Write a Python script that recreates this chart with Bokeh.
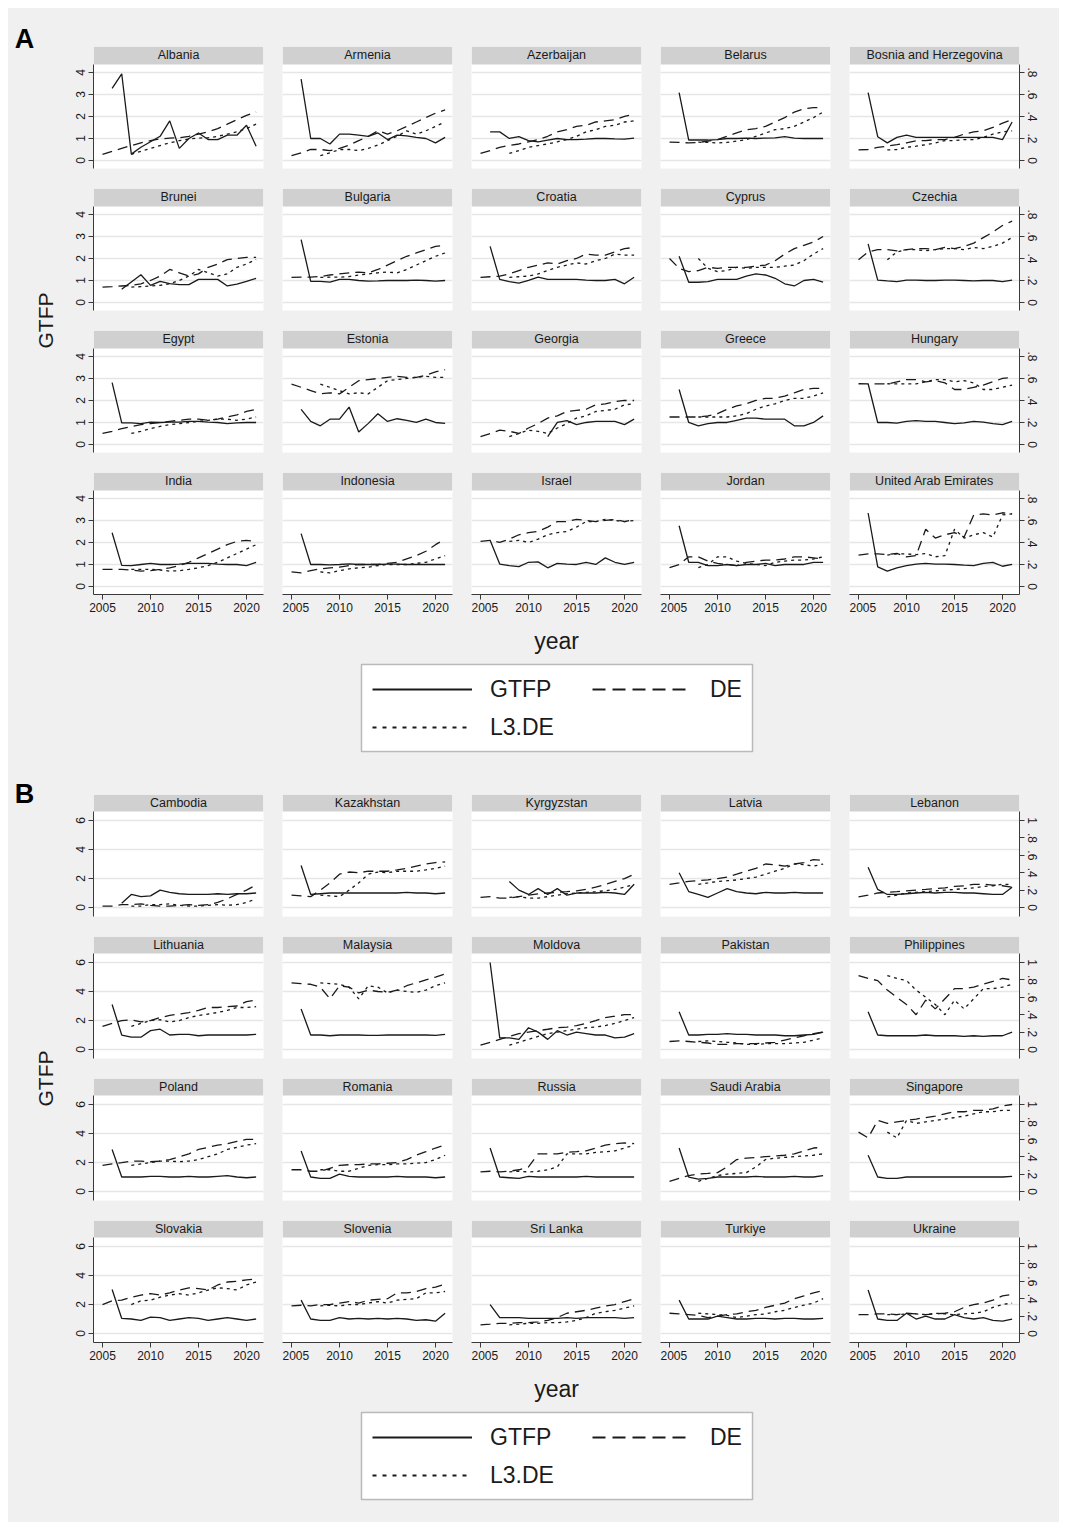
import math
from bokeh.plotting import figure
from bokeh.models import (Range1d, LinearAxis, FixedTicker, Grid, BoxAnnotation, Label,
                          Legend, LegendItem, CustomJSTickFormatter)
from bokeh.layouts import row, column
from bokeh.embed import file_html
from bokeh.resources import INLINE

nan = float("nan")

# ---------------- data ----------------
YEARS_GTFP = [2006, 2007, 2008, 2009, 2010, 2011, 2012, 2013, 2014, 2015, 2016, 2017, 2018, 2019, 2020, 2021]
YEARS_DE = [2005, 2006, 2007, 2008, 2009, 2010, 2011, 2012, 2013, 2014, 2015, 2016, 2017, 2018, 2019, 2020, 2021]
YEARS_L3DE = [2008, 2009, 2010, 2011, 2012, 2013, 2014, 2015, 2016, 2017, 2018, 2019, 2020, 2021]
YEAR_TICKS = [2005, 2010, 2015, 2020]

COUNTRIES_A = ["Albania", "Armenia", "Azerbaijan", "Belarus", "Bosnia and Herzegovina",
               "Brunei", "Bulgaria", "Croatia", "Cyprus", "Czechia",
               "Egypt", "Estonia", "Georgia", "Greece", "Hungary",
               "India", "Indonesia", "Israel", "Jordan", "United Arab Emirates"]

GTFP_A = [
    [3.28, 3.94, 0.29, 0.6, 0.85, 1.1, 1.8, 0.55, 1.0, 1.25, 0.95, 0.95, 1.15, 1.15, 1.6, 0.65],
    [3.7, 1.0, 1.0, 0.75, 1.2, 1.2, 1.15, 1.1, 1.25, 0.95, 1.15, 1.12, 1.05, 1.0, 0.8, 1.05],
    [1.3, 1.3, 1.0, 1.08, 0.9, 0.85, 0.93, 1.0, 0.95, 0.95, 0.97, 1.0, 1.0, 0.98, 0.97, 1.02],
    [3.08, 0.93, 0.93, 0.93, 0.95, 1.0, 1.0, 1.02, 1.0, 1.02, 1.03, 1.08, 1.02, 1.0, 1.0, 1.0],
    [3.08, 1.08, 0.8, 1.05, 1.15, 1.05, 1.05, 1.05, 1.05, 1.05, 1.05, 1.05, 1.05, 1.05, 0.95, 1.75],
    [nan, 0.6, 0.93, 1.26, 0.78, 0.96, 0.86, 0.81, 0.81, 1.05, 1.05, 1.05, 0.75, 0.83, 0.96, 1.1],
    [2.86, 0.96, 0.96, 0.93, 1.05, 1.05, 1.0, 0.97, 0.98, 1.0, 1.0, 1.0, 1.02, 1.0, 0.97, 1.0],
    [2.55, 1.05, 0.95, 0.88, 1.0, 1.15, 1.05, 1.05, 1.05, 1.05, 1.02, 1.0, 1.0, 1.05, 0.85, 1.15],
    [2.1, 0.92, 0.92, 0.95, 1.05, 1.05, 1.05, 1.2, 1.3, 1.25, 1.1, 0.85, 0.75, 1.0, 1.05, 0.92],
    [2.66, 1.02, 0.98, 0.95, 1.02, 1.02, 1.0, 1.0, 1.02, 1.02, 1.0, 0.98, 1.0, 1.0, 0.95, 1.02],
    [2.81, 0.98, 0.98, 0.95, 1.02, 1.0, 1.02, 1.02, 1.05, 1.05, 1.02, 1.0, 0.95, 0.98, 1.0, 1.0],
    [1.6, 1.05, 0.85, 1.15, 1.15, 1.7, 0.57, 0.96, 1.4, 1.05, 1.17, 1.1, 1.0, 1.15, 1.0, 0.96],
    [nan, nan, nan, nan, nan, nan, 0.36, 1.0, 1.08, 0.9, 1.0, 1.05, 1.05, 1.05, 0.9, 1.15],
    [2.5, 1.0, 0.85, 0.95, 1.0, 1.0, 1.1, 1.2, 1.2, 1.15, 1.15, 1.15, 0.85, 0.85, 1.0, 1.3],
    [2.76, 1.0, 1.0, 0.97, 1.05, 1.08, 1.05, 1.05, 1.0, 0.95, 0.98, 1.05, 1.02, 0.95, 0.9, 1.05],
    [2.44, 0.96, 0.95, 1.0, 1.05, 1.0, 1.0, 1.02, 1.05, 1.05, 1.05, 1.02, 1.0, 1.0, 0.95, 1.1],
    [2.4, 1.0, 1.0, 0.98, 1.0, 1.03, 1.0, 1.0, 1.0, 1.02, 1.02, 1.0, 1.0, 1.0, 1.0, 1.0],
    [2.1, 1.02, 0.95, 0.9, 1.1, 1.12, 0.85, 1.05, 1.02, 1.0, 1.1, 1.0, 1.3, 1.1, 1.0, 1.1],
    [2.76, 1.1, 1.1, 0.95, 0.95, 1.0, 0.95, 1.0, 1.0, 1.05, 0.95, 1.0, 1.0, 1.0, 1.1, 1.1],
    [3.34, 0.89, 0.7, 0.85, 0.95, 1.02, 1.05, 1.02, 1.02, 1.0, 0.97, 0.95, 1.05, 1.1, 0.92, 1.0],
]

DE_A = [
    [0.056, 0.084, 0.11, 0.136, 0.16, 0.18, 0.196, 0.204, 0.206, 0.22, 0.24, 0.26, 0.29, 0.33, 0.37, 0.41, 0.44],
    [0.044, 0.07, 0.1, 0.1, 0.09, 0.11, 0.14, 0.18, 0.22, 0.27, 0.24, 0.27, 0.31, 0.35, 0.39, 0.43, 0.46],
    [0.064, 0.09, 0.12, 0.136, 0.15, 0.17, 0.19, 0.22, 0.26, 0.28, 0.31, 0.32, 0.35, 0.36, 0.37, 0.4, 0.42],
    [0.166, 0.164, 0.16, 0.164, 0.176, 0.19, 0.22, 0.25, 0.28, 0.29, 0.31, 0.35, 0.39, 0.44, 0.47, 0.48, 0.48],
    [0.096, 0.1, 0.12, 0.13, 0.144, 0.16, 0.18, 0.18, 0.19, 0.19, 0.21, 0.24, 0.26, 0.27, 0.3, 0.34, 0.37],
    [0.14, 0.144, 0.15, 0.156, 0.17, 0.2, 0.24, 0.3, 0.27, 0.24, 0.26, 0.32, 0.35, 0.39, 0.4, 0.41, 0.41],
    [0.228, 0.23, 0.23, 0.236, 0.25, 0.26, 0.27, 0.276, 0.27, 0.3, 0.34, 0.38, 0.42, 0.45, 0.48, 0.51, 0.52],
    [0.228, 0.234, 0.24, 0.26, 0.29, 0.32, 0.34, 0.36, 0.35, 0.38, 0.4, 0.44, 0.43, 0.43, 0.46, 0.49, 0.5],
    [0.4, 0.31, 0.28, 0.29, 0.32, 0.31, 0.32, 0.32, 0.32, 0.33, 0.34, 0.38, 0.44, 0.49, 0.52, 0.55, 0.6],
    [0.388, 0.46, 0.48, 0.48, 0.47, 0.48, 0.49, 0.49, 0.48, 0.5, 0.49, 0.51, 0.54, 0.59, 0.64, 0.7, 0.74],
    [0.1, 0.12, 0.144, 0.164, 0.18, 0.19, 0.2, 0.21, 0.22, 0.23, 0.23, 0.22, 0.23, 0.25, 0.27, 0.3, 0.32],
    [0.548, 0.52, 0.49, 0.46, 0.47, 0.46, 0.52, 0.58, 0.59, 0.6, 0.61, 0.62, 0.61, 0.61, 0.63, 0.66, 0.68],
    [0.072, 0.1, 0.13, 0.12, 0.1, 0.15, 0.19, 0.24, 0.26, 0.3, 0.31, 0.32, 0.36, 0.37, 0.39, 0.4, 0.4],
    [0.25, 0.25, 0.25, 0.25, 0.26, 0.28, 0.32, 0.35, 0.37, 0.4, 0.42, 0.42, 0.44, 0.47, 0.5, 0.51, 0.51],
    [0.552, 0.55, 0.55, 0.55, 0.57, 0.59, 0.59, 0.57, 0.58, 0.56, 0.5, 0.5, 0.52, 0.54, 0.57, 0.6, 0.61],
    [0.156, 0.156, 0.156, 0.15, 0.14, 0.144, 0.156, 0.17, 0.19, 0.22, 0.26, 0.3, 0.34, 0.38, 0.41, 0.42, 0.41],
    [0.132, 0.124, 0.144, 0.16, 0.17, 0.176, 0.19, 0.2, 0.2, 0.2, 0.21, 0.22, 0.25, 0.28, 0.32, 0.38, 0.43],
    [0.41, 0.42, 0.4, 0.43, 0.47, 0.49, 0.5, 0.54, 0.59, 0.59, 0.61, 0.6, 0.59, 0.6, 0.61, 0.59, 0.61],
    [0.172, 0.2, 0.27, 0.27, 0.23, 0.21, 0.2, 0.19, 0.22, 0.23, 0.24, 0.24, 0.25, 0.27, 0.27, 0.26, 0.25],
    [0.286, 0.296, 0.296, 0.29, 0.3, 0.27, 0.28, 0.52, 0.44, 0.47, 0.49, 0.45, 0.65, 0.66, 0.65, 0.67, 0.66],
]

L3DE_A = [
    [0.056, 0.084, 0.11, 0.136, 0.16, 0.18, 0.196, 0.204, 0.206, 0.22, 0.24, 0.26, 0.29, 0.33],
    [0.044, 0.07, 0.1, 0.1, 0.09, 0.11, 0.14, 0.18, 0.22, 0.27, 0.24, 0.27, 0.31, 0.35],
    [0.064, 0.09, 0.12, 0.136, 0.15, 0.17, 0.19, 0.22, 0.26, 0.28, 0.31, 0.32, 0.35, 0.36],
    [0.166, 0.164, 0.16, 0.164, 0.176, 0.19, 0.22, 0.25, 0.28, 0.29, 0.31, 0.35, 0.39, 0.44],
    [0.096, 0.1, 0.12, 0.13, 0.144, 0.16, 0.18, 0.18, 0.19, 0.19, 0.21, 0.24, 0.26, 0.27],
    [0.14, 0.144, 0.15, 0.156, 0.17, 0.2, 0.24, 0.3, 0.27, 0.24, 0.26, 0.32, 0.35, 0.39],
    [0.228, 0.23, 0.23, 0.236, 0.25, 0.26, 0.27, 0.276, 0.27, 0.3, 0.34, 0.38, 0.42, 0.45],
    [0.228, 0.234, 0.24, 0.26, 0.29, 0.32, 0.34, 0.36, 0.35, 0.38, 0.4, 0.44, 0.43, 0.43],
    [0.4, 0.31, 0.28, 0.29, 0.32, 0.31, 0.32, 0.32, 0.32, 0.33, 0.34, 0.38, 0.44, 0.49],
    [0.388, 0.46, 0.48, 0.48, 0.47, 0.48, 0.49, 0.49, 0.48, 0.5, 0.49, 0.51, 0.54, 0.59],
    [0.1, 0.12, 0.144, 0.164, 0.18, 0.19, 0.2, 0.21, 0.22, 0.23, 0.23, 0.22, 0.23, 0.25],
    [0.548, 0.52, 0.49, 0.46, 0.47, 0.46, 0.52, 0.58, 0.59, 0.6, 0.61, 0.62, 0.61, 0.61],
    [0.072, 0.1, 0.13, 0.12, 0.1, 0.15, 0.19, 0.24, 0.26, 0.3, 0.31, 0.32, 0.36, 0.37],
    [0.25, 0.25, 0.25, 0.25, 0.26, 0.28, 0.32, 0.35, 0.37, 0.4, 0.42, 0.42, 0.44, 0.47],
    [0.552, 0.55, 0.55, 0.55, 0.57, 0.59, 0.59, 0.57, 0.58, 0.56, 0.5, 0.5, 0.52, 0.54],
    [0.156, 0.156, 0.156, 0.15, 0.14, 0.144, 0.156, 0.17, 0.19, 0.22, 0.26, 0.3, 0.34, 0.38],
    [0.132, 0.124, 0.144, 0.16, 0.17, 0.176, 0.19, 0.2, 0.2, 0.2, 0.21, 0.22, 0.25, 0.28],
    [0.41, 0.42, 0.4, 0.43, 0.47, 0.49, 0.5, 0.54, 0.59, 0.59, 0.61, 0.6, 0.59, 0.6],
    [0.172, 0.2, 0.27, 0.27, 0.23, 0.21, 0.2, 0.19, 0.22, 0.23, 0.24, 0.24, 0.25, 0.27],
    [0.286, 0.296, 0.296, 0.29, 0.3, 0.27, 0.28, 0.52, 0.44, 0.47, 0.49, 0.45, 0.65, 0.66],
]

COUNTRIES_B = ["Cambodia", "Kazakhstan", "Kyrgyzstan", "Latvia", "Lebanon",
               "Lithuania", "Malaysia", "Moldova", "Pakistan", "Philippines",
               "Poland", "Romania", "Russia", "Saudi Arabia", "Singapore",
               "Slovakia", "Slovenia", "Sri Lanka", "Turkiye", "Ukraine"]

GTFP_B = [
    [nan, 0.3, 0.9, 0.75, 0.8, 1.2, 1.05, 0.95, 0.9, 0.9, 0.9, 0.95, 0.9, 0.95, 0.95, 1.0],
    [2.9, 0.9, 0.95, 1.0, 1.0, 1.0, 1.0, 1.0, 1.0, 1.0, 1.0, 1.05, 1.0, 1.0, 0.95, 1.0],
    [nan, nan, 1.8, 1.2, 0.9, 1.3, 0.9, 1.3, 0.85, 1.0, 1.0, 1.0, 1.05, 1.0, 0.9, 1.6],
    [2.4, 1.1, 0.9, 0.7, 1.0, 1.3, 1.1, 1.0, 0.95, 1.05, 1.0, 1.0, 1.05, 1.0, 1.0, 1.0],
    [2.78, 1.25, 0.9, 0.9, 0.95, 1.0, 1.05, 1.0, 1.05, 1.05, 1.0, 1.0, 0.95, 0.9, 0.9, 1.4],
    [3.1, 1.0, 0.85, 0.85, 1.3, 1.4, 1.0, 1.05, 1.05, 0.95, 1.0, 1.0, 1.0, 1.0, 1.0, 1.05],
    [2.8, 1.0, 1.0, 0.95, 1.0, 1.0, 1.0, 0.98, 0.98, 1.0, 1.0, 1.0, 1.0, 1.0, 0.98, 1.05],
    [6.0, 0.8, 0.8, 0.7, 1.5, 1.2, 0.7, 1.3, 1.0, 1.2, 1.1, 1.0, 1.0, 0.8, 0.85, 1.1],
    [2.6, 1.0, 1.0, 1.05, 1.05, 1.1, 1.05, 1.05, 1.0, 1.0, 1.0, 0.95, 0.95, 1.0, 1.05, 1.2],
    [2.6, 1.0, 0.95, 0.95, 0.95, 0.95, 1.0, 0.95, 0.95, 0.95, 0.9, 0.95, 0.9, 0.95, 0.95, 1.2],
    [2.9, 1.0, 1.0, 1.0, 1.05, 1.05, 1.0, 1.0, 1.05, 1.0, 1.0, 1.05, 1.1, 1.0, 0.95, 1.0],
    [2.8, 1.0, 0.9, 0.9, 1.2, 1.05, 1.0, 1.0, 1.0, 1.0, 1.05, 1.0, 1.0, 1.0, 0.95, 1.0],
    [3.0, 1.0, 0.95, 0.9, 1.05, 1.0, 1.0, 1.0, 1.0, 1.0, 1.05, 1.0, 1.0, 1.0, 1.0, 1.0],
    [3.0, 1.0, 0.85, 0.9, 1.0, 1.0, 1.0, 1.0, 1.05, 1.0, 1.0, 1.0, 1.05, 1.0, 1.0, 1.1],
    [2.5, 1.0, 0.9, 0.9, 1.0, 1.0, 1.0, 1.0, 1.0, 1.0, 1.0, 1.0, 1.0, 1.0, 1.0, 1.05],
    [3.03, 1.04, 1.0, 0.9, 1.13, 1.1, 0.9, 1.0, 1.1, 1.05, 0.9, 1.0, 1.1, 1.0, 0.9, 1.0],
    [2.3, 1.0, 0.9, 0.9, 1.1, 1.0, 1.05, 1.0, 1.05, 1.0, 1.05, 1.0, 0.9, 0.95, 0.85, 1.4],
    [2.0, 1.1, 1.1, 1.1, 1.05, 1.05, 1.05, 1.05, 1.1, 1.05, 1.1, 1.1, 1.1, 1.1, 1.05, 1.1],
    [2.3, 1.0, 1.0, 1.0, 1.2, 1.1, 1.0, 1.0, 1.05, 1.05, 1.0, 1.05, 1.05, 1.0, 1.0, 1.05],
    [3.0, 1.0, 0.9, 0.9, 1.4, 1.0, 1.2, 1.0, 1.0, 1.3, 1.1, 1.0, 1.1, 0.9, 0.85, 1.0],
]

DE_B = [
    [0.017, 0.017, 0.033, 0.033, 0.042, 0.025, 0.017, 0.017, 0.025, 0.033, 0.025, 0.033, 0.058, 0.1, 0.15, 0.2, 0.26],
    [0.142, 0.133, 0.125, 0.2, 0.283, 0.383, 0.408, 0.4, 0.417, 0.417, 0.417, 0.433, 0.45, 0.475, 0.5, 0.517, 0.525],
    [0.117, 0.125, 0.108, 0.108, 0.125, 0.142, 0.158, 0.167, 0.175, 0.183, 0.192, 0.208, 0.233, 0.267, 0.3, 0.333, 0.383],
    [0.267, 0.283, 0.3, 0.308, 0.317, 0.333, 0.35, 0.383, 0.417, 0.45, 0.5, 0.492, 0.475, 0.5, 0.517, 0.55, 0.542],
    [0.122, 0.142, 0.167, 0.175, 0.183, 0.192, 0.2, 0.208, 0.217, 0.225, 0.242, 0.25, 0.267, 0.267, 0.258, 0.25, 0.233],
    [0.267, 0.3, 0.333, 0.342, 0.317, 0.333, 0.367, 0.392, 0.408, 0.425, 0.45, 0.483, 0.483, 0.492, 0.5, 0.55, 0.567],
    [0.767, 0.758, 0.75, 0.717, 0.583, 0.733, 0.717, 0.65, 0.683, 0.667, 0.658, 0.683, 0.733, 0.767, 0.8, 0.833, 0.867],
    [0.05, 0.083, 0.117, 0.15, 0.183, 0.2, 0.217, 0.233, 0.25, 0.258, 0.275, 0.3, 0.333, 0.367, 0.383, 0.4, 0.4],
    [0.092, 0.1, 0.092, 0.083, 0.075, 0.058, 0.058, 0.067, 0.067, 0.067, 0.075, 0.083, 0.108, 0.133, 0.158, 0.183, 0.2],
    [0.85, 0.817, 0.792, 0.683, 0.6, 0.517, 0.4, 0.567, 0.467, 0.583, 0.7, 0.7, 0.717, 0.75, 0.783, 0.817, 0.8],
    [0.3, 0.317, 0.333, 0.35, 0.35, 0.342, 0.35, 0.367, 0.4, 0.433, 0.483, 0.508, 0.533, 0.55, 0.575, 0.6, 0.6],
    [0.25, 0.25, 0.233, 0.233, 0.267, 0.3, 0.308, 0.308, 0.317, 0.317, 0.325, 0.333, 0.367, 0.417, 0.458, 0.5, 0.533],
    [0.225, 0.233, 0.225, 0.233, 0.25, 0.283, 0.433, 0.433, 0.433, 0.45, 0.458, 0.467, 0.5, 0.533, 0.55, 0.558, 0.55],
    [0.117, 0.15, 0.183, 0.2, 0.208, 0.217, 0.283, 0.367, 0.383, 0.392, 0.4, 0.408, 0.417, 0.433, 0.467, 0.5, 0.508],
    [0.683, 0.617, 0.817, 0.783, 0.8, 0.817, 0.833, 0.85, 0.867, 0.892, 0.917, 0.917, 0.933, 0.933, 0.95, 0.983, 1.0],
    [0.333, 0.375, 0.383, 0.417, 0.442, 0.458, 0.442, 0.467, 0.5, 0.525, 0.517, 0.5, 0.558, 0.592, 0.6, 0.617, 0.625],
    [0.317, 0.325, 0.317, 0.333, 0.333, 0.35, 0.367, 0.35, 0.383, 0.392, 0.4, 0.467, 0.467, 0.483, 0.517, 0.533, 0.567],
    [0.1, 0.108, 0.117, 0.117, 0.125, 0.125, 0.133, 0.15, 0.183, 0.233, 0.25, 0.267, 0.292, 0.317, 0.333, 0.367, 0.4],
    [0.233, 0.225, 0.217, 0.208, 0.183, 0.2, 0.217, 0.225, 0.25, 0.267, 0.3, 0.325, 0.35, 0.4, 0.433, 0.467, 0.492],
    [0.217, 0.217, 0.225, 0.225, 0.217, 0.233, 0.225, 0.217, 0.225, 0.233, 0.25, 0.3, 0.333, 0.35, 0.383, 0.433, 0.45],
]

L3DE_B = [
    [0.017, 0.017, 0.033, 0.033, 0.042, 0.025, 0.017, 0.017, 0.025, 0.033, 0.025, 0.033, 0.058, 0.1],
    [0.142, 0.133, 0.125, 0.2, 0.283, 0.383, 0.408, 0.4, 0.417, 0.417, 0.417, 0.433, 0.45, 0.475],
    [0.117, 0.125, 0.108, 0.108, 0.125, 0.142, 0.158, 0.167, 0.175, 0.183, 0.192, 0.208, 0.233, 0.267],
    [0.267, 0.283, 0.3, 0.308, 0.317, 0.333, 0.35, 0.383, 0.417, 0.45, 0.5, 0.492, 0.475, 0.5],
    [0.122, 0.142, 0.167, 0.175, 0.183, 0.192, 0.2, 0.208, 0.217, 0.225, 0.242, 0.25, 0.267, 0.267],
    [0.267, 0.3, 0.333, 0.342, 0.317, 0.333, 0.367, 0.392, 0.408, 0.425, 0.45, 0.483, 0.483, 0.492],
    [0.767, 0.758, 0.75, 0.717, 0.583, 0.733, 0.717, 0.65, 0.683, 0.667, 0.658, 0.683, 0.733, 0.767],
    [0.05, 0.083, 0.117, 0.15, 0.183, 0.2, 0.217, 0.233, 0.25, 0.258, 0.275, 0.3, 0.333, 0.367],
    [0.092, 0.1, 0.092, 0.083, 0.075, 0.058, 0.058, 0.067, 0.067, 0.067, 0.075, 0.083, 0.108, 0.133],
    [0.85, 0.817, 0.792, 0.683, 0.6, 0.517, 0.4, 0.567, 0.467, 0.583, 0.7, 0.7, 0.717, 0.75],
    [0.3, 0.317, 0.333, 0.35, 0.35, 0.342, 0.35, 0.367, 0.4, 0.433, 0.483, 0.508, 0.533, 0.55],
    [0.25, 0.25, 0.233, 0.233, 0.267, 0.3, 0.308, 0.308, 0.317, 0.317, 0.325, 0.333, 0.367, 0.417],
    [0.225, 0.233, 0.225, 0.233, 0.25, 0.283, 0.433, 0.433, 0.433, 0.45, 0.458, 0.467, 0.5, 0.533],
    [0.117, 0.15, 0.183, 0.2, 0.208, 0.217, 0.283, 0.367, 0.383, 0.392, 0.4, 0.408, 0.417, 0.433],
    [0.683, 0.617, 0.817, 0.783, 0.8, 0.817, 0.833, 0.85, 0.867, 0.892, 0.917, 0.917, 0.933, 0.933],
    [0.333, 0.375, 0.383, 0.417, 0.442, 0.458, 0.442, 0.467, 0.5, 0.525, 0.517, 0.5, 0.558, 0.592],
    [0.317, 0.325, 0.317, 0.333, 0.333, 0.35, 0.367, 0.35, 0.383, 0.392, 0.4, 0.467, 0.467, 0.483],
    [0.1, 0.108, 0.117, 0.117, 0.125, 0.125, 0.133, 0.15, 0.183, 0.233, 0.25, 0.267, 0.292, 0.317],
    [0.233, 0.225, 0.217, 0.208, 0.183, 0.2, 0.217, 0.225, 0.25, 0.267, 0.3, 0.325, 0.35, 0.4],
    [0.217, 0.217, 0.225, 0.225, 0.217, 0.233, 0.225, 0.217, 0.225, 0.233, 0.25, 0.3, 0.333, 0.35],
]

GTFP_TICKS_A = [0, 1, 2, 3, 4]
DE_TICKS_A = [0, 0.2, 0.4, 0.6, 0.8]
GTFP_TICKS_B = [0, 2, 4, 6]
DE_TICKS_B = [0, 0.2, 0.4, 0.6, 0.8, 1]

# ---------------- style ----------------
BG = "#f0f0f0"
STRIP = "#d0d0d0"
GRIDC = "#e6e6e6"
INK = "#1a1a1a"
AXC = "#3a3a3a"
FONT = "Liberation Sans, Arial, sans-serif"

X_START, X_END = 2004.06, 2021.77
FRAME_W, FRAME_H = 170, 122
TOTAL_W = 1051
SIDE_W = 50

DE_FMT = "return tick == 0 ? '0' : (tick >= 1 ? String(tick) : String(tick).replace(/^0/, ''));"


def style_axis(ax, size="12px"):
    ax.axis_line_color = AXC
    ax.axis_line_width = 1
    ax.major_tick_line_color = AXC
    ax.major_tick_out = 5
    ax.major_tick_in = 0
    ax.minor_tick_line_color = None
    ax.major_label_text_font = FONT
    ax.major_label_text_font_size = size
    ax.major_label_text_color = INK
    ax.major_label_standoff = 3


def make_panel(name, gtfp, de, l3, cfg, col, top_b, bottom_b, show_x):
    ylo, yplot, yhi, k, gticks, dticks = cfg
    left_b = 35 if col == 0 else 0
    right_b = 40 if col == 4 else 19
    p = figure(width=left_b + FRAME_W + right_b, height=top_b + FRAME_H + bottom_b,
               x_range=Range1d(X_START, X_END), y_range=Range1d(ylo, yhi),
               x_axis_location=None, y_axis_location=None,
               toolbar_location=None, output_backend="svg",
               min_border_left=left_b, min_border_right=right_b,
               min_border_top=top_b, min_border_bottom=bottom_b,
               background_fill_color="white", border_fill_color=BG,
               outline_line_color=None)
    p.grid.visible = False
    p.extra_y_ranges = {"de": Range1d(ylo / k, yhi / k)}

    p.add_layout(Grid(dimension=1, ticker=FixedTicker(ticks=gticks),
                      grid_line_color=GRIDC, grid_line_width=1.5), "center")
    p.add_layout(BoxAnnotation(bottom=yplot, fill_color=STRIP, fill_alpha=1.0,
                               line_color=None, level="underlay"))
    p.add_layout(Label(x=(X_START + X_END) / 2, y=(yplot + yhi) / 2, text=name,
                       text_align="center", text_baseline="middle",
                       text_font=FONT, text_font_size="12.5px", text_color=INK))

    if col == 0:
        ax = LinearAxis(ticker=FixedTicker(ticks=gticks), bounds=(ylo, yplot))
        style_axis(ax)
        ax.major_label_orientation = "vertical"
        p.add_layout(ax, "left")
    if col == 4:
        ax = LinearAxis(y_range_name="de", ticker=FixedTicker(ticks=dticks),
                        bounds=(ylo / k, yplot / k),
                        formatter=CustomJSTickFormatter(code=DE_FMT))
        style_axis(ax)
        ax.major_label_orientation = "vertical"
        p.add_layout(ax, "right")
    if show_x:
        ax = LinearAxis(ticker=FixedTicker(ticks=YEAR_TICKS))
        style_axis(ax)
        p.add_layout(ax, "below")

    p.line(YEARS_GTFP, gtfp, line_color=INK, line_width=1.3)
    p.line(YEARS_DE, de, y_range_name="de", line_color=INK, line_width=1.3, line_dash="10 6")
    p.line(YEARS_L3DE, l3, y_range_name="de", line_color=INK, line_width=1.3, line_dash="3 4")
    return p


def make_side(h, letter, letter_y, title_y):
    p = figure(width=SIDE_W, height=h, x_range=Range1d(0, SIDE_W), y_range=Range1d(0, h),
               x_axis_location=None, y_axis_location=None, toolbar_location=None,
               output_backend="svg", min_border=0, background_fill_color=BG,
               border_fill_color=BG, outline_line_color=None)
    p.grid.visible = False
    p.add_layout(Label(x=16, y=h - letter_y, text=letter, text_align="center",
                       text_baseline="middle", text_font=FONT, text_font_style="bold",
                       text_font_size="27px", text_color="black"))
    p.add_layout(Label(x=37, y=h - title_y, text="GTFP", angle=math.pi / 2,
                       text_align="center", text_baseline="middle", text_font=FONT,
                       text_font_size="21px", text_color=INK))
    return p


def make_block(h):
    p = figure(width=TOTAL_W, height=h, x_range=Range1d(0, TOTAL_W), y_range=Range1d(0, h),
               x_axis_location=None, y_axis_location=None, toolbar_location=None,
               output_backend="svg", min_border=0, background_fill_color=BG,
               border_fill_color=BG, outline_line_color=None)
    p.grid.visible = False
    p.add_layout(Label(x=548, y=h - 18, text="year", text_align="center",
                       text_baseline="middle", text_font=FONT, text_font_size="23px",
                       text_color=INK))
    p.add_layout(BoxAnnotation(left=353, right=744, top=h - 42, bottom=h - 129,
                               fill_color="white", fill_alpha=1.0,
                               line_color="#2a2a2a", line_width=1.5))
    # legend sample renderers (kept outside the visible range)
    r1 = p.line([-50, -40], [-50, -50], line_color=INK, line_width=2)
    r2 = p.line([-50, -40], [-50, -50], line_color=INK, line_width=2, line_dash="13 7")
    r3 = p.line([-50, -40], [-50, -50], line_color=INK, line_width=2, line_dash="4 6")
    common = dict(glyph_width=100, glyph_height=30, label_height=30, label_standoff=18,
                  spacing=8, padding=0, margin=0, border_line_color=None,
                  background_fill_alpha=0, label_text_font=FONT,
                  label_text_font_size="23px", label_text_color=INK)
    leg1 = Legend(items=[LegendItem(label="GTFP", renderers=[r1]),
                         LegendItem(label="L3.DE", renderers=[r3])],
                  location=(364, h - 120), **common)
    leg2 = Legend(items=[LegendItem(label="DE", renderers=[r2])],
                  location=(584, h - 82), **common)
    p.add_layout(leg1)
    p.add_layout(leg2)
    return p


def make_section(names, gt, de, l3, cfg, first_top, letter, letter_y, title_y, block_h):
    rows = []
    for r in range(4):
        top_b = first_top if r == 0 else 0
        bottom_b = 28 if r == 3 else 20
        panels = []
        for c in range(5):
            i = r * 5 + c
            panels.append(make_panel(names[i], gt[i], de[i], l3[i], cfg, c,
                                     top_b, bottom_b, r == 3))
        rows.append(row(*panels, styles={"background-color": BG}))
    h = first_top + FRAME_H * 4 + 20 * 3 + 28
    side = make_side(h, letter, letter_y, title_y)
    return column(row(side, column(*rows, styles={"background-color": BG}),
                      styles={"background-color": BG}),
                  make_block(block_h), styles={"background-color": BG})


CFG_A = (-0.364, 4.364, 5.18, 5.0, GTFP_TICKS_A, DE_TICKS_A)
CFG_B = (-0.62, 6.62, 7.794, 6.0, GTFP_TICKS_B, DE_TICKS_B)

sec_a = make_section(COUNTRIES_A, GTFP_A, DE_A, L3DE_A, CFG_A, 38, "A", 30, 312, 148)
sec_b = make_section(COUNTRIES_B, GTFP_B, DE_B, L3DE_B, CFG_B, 24, "B", 23, 308, 152)

root = column(sec_a, sec_b, margin=(8, 8, 8, 8), styles={"background-color": BG})

open("out.html", "w").write(file_html(root, INLINE, title="GTFP, DE and L3.DE by country"))
